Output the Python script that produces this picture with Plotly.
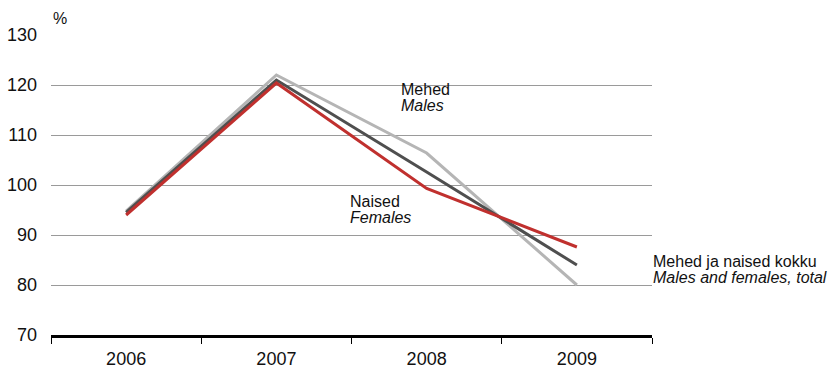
import plotly.graph_objects as go

years = ["2006", "2007", "2008", "2009"]
males = [94.8, 122.0, 106.4, 80.0]
total = [94.5, 121.0, 102.6, 84.0]
females = [94.0, 120.4, 99.3, 87.6]
y_ticks = [70, 80, 90, 100, 110, 120, 130]

W, H = 828, 370
L, R, T, B = 51, 176, 35, 35
pw = W - L - R

def px(x):
    return (x - L) / pw

fig = go.Figure()
fig.add_trace(go.Scatter(x=years, y=males, mode="lines",
                         line=dict(color="#b5b5b5", width=3), name="Mehed"))
fig.add_trace(go.Scatter(x=years, y=total, mode="lines",
                         line=dict(color="#4f4f4f", width=3), name="Kokku"))
fig.add_trace(go.Scatter(x=years, y=females, mode="lines",
                         line=dict(color="#c0302e", width=3), name="Naised"))

font = "Liberation Sans, Arial, sans-serif"

shapes = [
    dict(type="rect", xref="paper", yref="y", x0=px(390), x1=px(513),
         y0=119.6, y1=120.4, fillcolor="white", line=dict(width=0), layer="below"),
    dict(type="rect", xref="paper", yref="y", x0=px(643), x1=1.01,
         y0=79.6, y1=80.4, fillcolor="white", line=dict(width=0), layer="below"),
]

def ann(x, y, text, italic=False):
    return dict(x=px(x), y=y, xref="paper", yref="y", xanchor="left", yanchor="middle",
                text=("<i>%s</i>" % text) if italic else text, showarrow=False,
                font=dict(family=font, size=16, color="#111111"))

annotations = [
    ann(399, 119.1, "Mehed"),
    ann(399, 115.9, "Males", True),
    ann(348, 96.7, "Naised"),
    ann(348, 93.5, "Females", True),
    ann(651, 84.7, "Mehed ja naised kokku"),
    ann(651, 81.5, "Males and females, total", True),
    dict(x=px(51), y=1, xref="paper", yref="paper", xanchor="left", yanchor="bottom",
         yshift=6, text="%", showarrow=False,
         font=dict(family=font, size=16, color="#111111")),
]

fig.update_layout(
    width=W, height=H,
    margin=dict(l=L, r=R, t=T, b=B, autoexpand=False),
    plot_bgcolor="white", paper_bgcolor="white",
    showlegend=False,
    font=dict(family=font, size=18, color="#111111"),
    shapes=shapes,
    annotations=annotations,
    xaxis=dict(type="category", tickson="boundaries", ticks="outside", ticklen=6,
               tickwidth=1, tickcolor="black", showline=True, linecolor="black",
               linewidth=2.5, showgrid=False, range=[-0.5, 3.5], automargin=False,
               tickfont=dict(size=18), ticklabelstandoff=6),
    yaxis=dict(range=[70, 130], tickvals=y_ticks, showgrid=True, gridcolor="#9a9a9a",
               gridwidth=1, zeroline=False, showline=False, ticks="", automargin=False,
               tickfont=dict(size=18), ticklabelstandoff=13),
)

fig.write_html("out.html", config={"displayModeBar": False},
               post_script="document.body.style.margin='0';document.body.style.overflow='hidden';")
